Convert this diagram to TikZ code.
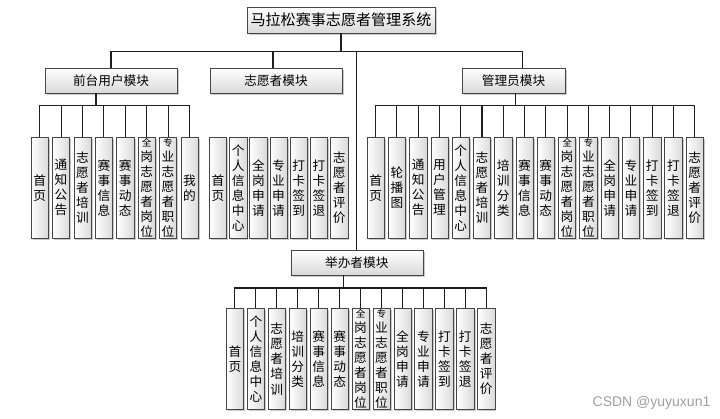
\documentclass[tikz,border=0pt]{standalone}
\usepackage{fontspec}
\setmainfont{Noto Sans CJK SC}
\newfontfamily\wmfont{Liberation Sans}
\usetikzlibrary{positioning,shadows}
\definecolor{linegray}{RGB}{30,30,30}
\definecolor{boxgray}{RGB}{70,70,70}
\definecolor{fillgray}{RGB}{218,218,218}
\newcommand{\smallleaf}{\fontsize{7.2}{9.5}\selectfont}
\tikzset{
  sysbox/.style={draw=boxgray,top color=white,bottom color=fillgray,
    minimum width=141pt,minimum height=19.5pt,inner sep=0pt,
    font=\fontsize{11.3}{13}\selectfont,
    drop shadow={shadow xshift=1.5pt,shadow yshift=-1.5pt,fill=gray!70,opacity=.6}},
  modbox/.style={draw=boxgray,top color=white,bottom color=fillgray,
    minimum width=99pt,minimum height=18.75pt,inner sep=0pt,
    font=\fontsize{9.5}{11}\selectfont,
    drop shadow={shadow xshift=1.5pt,shadow yshift=-1.5pt,fill=gray!70,opacity=.6}},
  leafbox/.style={draw=boxgray,left color=white,right color=fillgray,anchor=north west,
    minimum width=13pt,minimum height=75.75pt,inner sep=0pt,align=center,
    font=\fontsize{9.5}{11.3}\selectfont,
    drop shadow={shadow xshift=1.2pt,shadow yshift=-1.2pt,fill=gray!70,opacity=.6}},
  link/.style={draw=linegray,line width=0.8pt},
}
\begin{document}
\begin{tikzpicture}[x=0.75pt,y=-0.75pt]
  \useasboundingbox (0,0) rectangle (720,418);
  \node[sysbox] (sys) at (341,20) {马拉松赛事志愿者管理系统};
  \node[modbox] (qt) at (111,80.5) {前台用户模块};
  \node[modbox] (zy) at (276,80.5) {志愿者模块};
  \node[modbox,minimum width=77.25pt] (gl) at (513.5,80.5) {管理员模块};
  \node[modbox] (jb) at (356.8,262.5) {举办者模块};

  % first level
  \draw[link] (sys.south) -- ++(0,18) -| (qt.north);
  \draw[link] (sys.south) -- ++(0,18) -| ([xshift=-2.25pt]zy.north);
  \draw[link] (sys.south) -- ++(0,18) -| (jb.north);
  \draw[link] (sys.south) -- ++(0,18) -| ([xshift=6.75pt]gl.north);

  % 前台用户模块
  \foreach \t [count=\i] in {首\\页,通\\知\\公\\告,志\\愿\\者\\培\\训,赛\\事\\信\\息,
      赛\\事\\动\\态,\smallleaf 全\\岗\\志\\愿\\者\\岗\\位,\smallleaf 专\\业\\志\\愿\\者\\职\\位,我\\的}
    \node[leafbox] (qt\i) at ({30.7+(\i-1)*21.4},137) {\t};
  \foreach \i in {1,...,8}
    \draw[link] ([xshift=-11.25pt]qt.south) -- ++(0,12) -| (qt\i.north);

  % 志愿者模块
  \foreach \t [count=\i] in {首\\页,个\\人\\信\\息\\中\\心,全\\岗\\申\\请,专\\业\\申\\请,
      打\\卡\\签\\到,打\\卡\\签\\退,志\\愿\\者\\评\\价}
    \node[leafbox] (zy\i) at ({209+(\i-1)*20.2},137) {\t};

  % 管理员模块
  \foreach \t [count=\i] in {首\\页,轮\\播\\图,通\\知\\公\\告,用\\户\\管\\理,个\\人\\信\\息\\中\\心,
      志\\愿\\者\\培\\训,培\\训\\分\\类,赛\\事\\信\\息,赛\\事\\动\\态,
      \smallleaf 全\\岗\\志\\愿\\者\\岗\\位,\smallleaf 专\\业\\志\\愿\\者\\职\\位,
      全\\岗\\申\\请,专\\业\\申\\请,打\\卡\\签\\到,打\\卡\\签\\退,志\\愿\\者\\评\\价}
    \node[leafbox] (gl\i) at ({366.7+(\i-1)*21.27},137) {\t};
  \foreach \i in {1,...,16}
    \draw[link] ([xshift=1.5pt]gl.south) -- ++(0,12.5) -| (gl\i.north);

  % 举办者模块
  \foreach \t [count=\i] in {首\\页,个\\人\\信\\息\\中\\心,志\\愿\\者\\培\\训,培\\训\\分\\类,
      赛\\事\\信\\息,赛\\事\\动\\态,\smallleaf 全\\岗\\志\\愿\\者\\岗\\位,
      \smallleaf 专\\业\\志\\愿\\者\\职\\位,全\\岗\\申\\请,专\\业\\申\\请,
      打\\卡\\签\\到,打\\卡\\签\\退,志\\愿\\者\\评\\价}
    \node[leafbox] (jb\i) at ({226+(\i-1)*20.94},308.3) {\t};
  \foreach \i in {1,...,13}
    \draw[link] ([xshift=-9.75pt]jb.south) -- ++(0,12.7) -| (jb\i.north);

  \node[font=\wmfont\fontsize{10.5}{12}\selectfont,text=gray!75] (wm) at (651.5,403) {CSDN @yuyuxun1};
\end{tikzpicture}
\end{document}
